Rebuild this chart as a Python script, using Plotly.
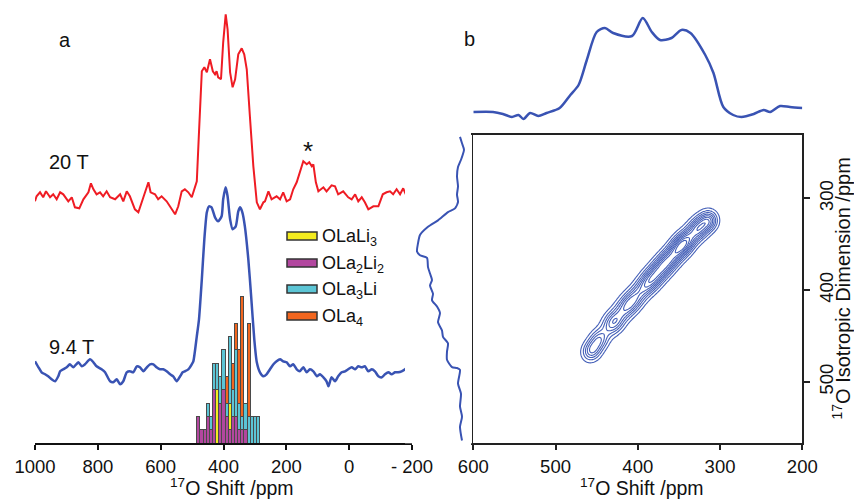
import numpy as np
import plotly.graph_objects as go

# ---------------- data: panel a (1D spectra, ppm vs relative intensity) -------------
red_ppm = [1000, 995, 984, 974, 965, 952, 942, 931, 920, 910, 894, 883, 873, 859, 846, 830, 822, 814,
           804, 793, 783, 772, 761, 745, 729, 719, 708, 698, 682, 671, 655, 639, 632, 618, 608, 597,
           581, 570, 554, 544, 533, 523, 512, 501, 485, 478, 469, 461, 453, 443, 434, 427, 422, 417,
           408, 401, 393, 387, 379, 371, 363, 353, 342, 334, 326, 316, 305, 294, 284, 273, 268, 257,
           247, 231, 220, 210, 199, 188, 178, 167, 157, 146, 135, 127, 119, 114, 106, 98, 82, 72, 56,
           45, 35, 19, 3, -8, -19, -29, -40, -50, -61, -77, -93, -107, -119, -130, -140, -151, -162,
           -172, -183, -194, -199]
red_int = [-5, 0, 4, -1, 5, -1, 2, -3, 4, 2, -5, -1, -11, -12, -3, 4, 13, 7,
           2, 4, 0, 5, -1, -3, 2, -5, 5, 0, -13, -16, -1, 14, 4, 2, -3, 0,
           -5, -10, -18, -10, 5, 7, 4, -1, 15, 64, 125, 129, 124, 137, 125, 122, 125, 119,
           117, 154, 182, 167, 124, 109, 117, 142, 148, 142, 127, 80, 30, -6, -13, -6, -5, 5,
           -3, 0, -3, 4, -5, -3, 7, 14, 24, 35, 32, 34, 30, 32, 14, 5, 9, 5, 11,
           10, 2, 5, -1, -3, 2, -5, -1, -6, -13, -10, -10, 2, 4, 5, 2, 7, 2,
           8, 0, 2, -11]

blue_ppm = [1000, 989, 979, 968, 958, 947, 936, 926, 920, 910, 899, 889, 878, 862, 851, 841, 825, 814,
            804, 788, 777, 761, 751, 740, 729, 719, 708, 698, 687, 676, 666, 655, 644, 634, 623, 613,
            602, 592, 581, 570, 560, 549, 538, 530, 523, 512, 501, 496, 485, 478, 469, 461, 453, 446,
            438, 427, 417, 406, 401, 393, 387, 379, 371, 361, 353, 347, 340, 332, 321, 312, 302, 294,
            284, 273, 263, 252, 241, 231, 220, 210, 199, 188, 178, 167, 157, 146, 135, 125, 114, 103,
            93, 82, 72, 66, 56, 45, 35, 24, 13, 3, -8, -19, -29, -40, -50, -61, -72, -82, -93, -104,
            -114, -125, -135, -146, -156, -167, -178, -188, -199]
blue_int = [10, 4, -1, -3, -5, -8, -10, -5, 0, 2, 4, 7, 4, 9, 5, 7, 12, 9,
            5, 2, -1, -10, -11, -8, -13, -10, -1, 0, -1, 5, 4, 0, 4, 7, 7, 4,
            2, 2, 0, -3, -5, -10, -5, -1, 0, 2, 7, 10, 35, 52, 92, 132, 159, 165,
            164, 154, 150, 155, 172, 184, 175, 152, 142, 145, 160, 164, 159, 145, 112, 75, 32, 9,
            -1, -5, -3, 2, 7, 10, 12, 10, 9, 5, 7, 2, 0, 4, -1, 2, 0, -5,
            -3, -6, -10, -15, -6, -10, -5, -1, 0, 2, 4, 2, 5, 4, 5, 0, 2, 0, -5, -6,
            -3, -1, -3, -1, -1, 0, 2, 5, 10]

# histogram of calculated shifts (counts per 10 ppm bin)
bin_centers = [480, 470, 460, 450, 440, 430, 420, 410, 400, 390,
               380, 370, 360, 350, 340, 330, 320, 310, 300, 290]
count_OLa2Li2 = [2, 1, 1, 2, 1, 4, 0, 3, 4, 2, 1, 2, 2, 1, 1, 1, 0, 0, 0, 0]
count_OLaLi3 = [0, 0, 0, 0, 0, 0, 4, 0, 0, 0, 2, 0, 0, 0, 0, 0, 0, 0, 0, 0]
count_OLa3Li = [0, 0, 0, 1, 1, 2, 2, 2, 3, 1, 5, 2, 5, 2, 1, 2, 2, 2, 2, 2]
count_OLa4 = [0, 0, 0, 0, 0, 0, 0, 0, 0, 2, 0, 2, 2, 4, 9, 0, 7, 0, 0, 0]

legend_names = ["OLaLi<sub>3</sub>", "OLa<sub>2</sub>Li<sub>2</sub>", "OLa<sub>3</sub>Li", "OLa<sub>4</sub>"]
panel_a_ticks = [1000, 800, 600, 400, 200, 0, -200]
panel_a_ticktext = ["1000", "800", "600", "400", "200", "0", "- 200"]
shift_title = "<sup>17</sup>O Shift /ppm"
iso_title = "<sup>17</sup>O Isotropic Dimension /ppm"

# ---------------- data: panel b -------------
top_proj_ppm = [600, 576, 564, 553, 545, 539, 531, 521, 511, 495, 482, 472, 462, 450, 440, 430,
                407, 394, 383, 373, 359, 347, 336, 318, 308, 296, 284, 274, 259, 247, 239, 227,
                215, 200]
top_proj_int = [0, 0, -2, -5, -3, -7, -1, -4, -1, 4, 17, 27, 52, 80, 84, 79,
                76, 94, 80, 72, 74, 82, 79, 57, 39, 5, -3, -5, -2, 2, 0, 6,
                5, 4]

left_proj_iso = [233, 240, 247, 258, 266, 276, 287, 296, 304, 311, 315, 324, 331, 340, 349, 358,
                 362, 365, 375, 382, 389, 395, 404, 411, 418, 425, 435, 444, 451, 458, 467, 476,
                 484, 485, 487, 502, 513, 527, 538, 549, 564]
left_proj_int = [5, 3, 1, 4, 7, 8, 7, 8, 7, 10, 17, 27, 37, 45, 47, 48,
                 45, 38, 37, 35, 33, 35, 32, 33, 28, 25, 27, 23, 22, 17, 18, 18,
                 13, 8, 5, 7, 4, 5, 3, 5, 3]

# ridge components of the 2D (MQMAS) contour
ridge_shift = [456, 447, 430, 410, 385, 365, 345, 325, 313]
ridge_iso = [466, 454, 436, 415, 390, 370, 350, 332, 324]
ridge_amp = [0.55, 0.5, 0.6, 0.75, 0.8, 0.85, 1.0, 0.8, 0.5]
ridge_len = [8, 8, 10, 14, 14, 14, 12, 10, 7]
ridge_wid = [7, 7, 7.5, 7.5, 7.5, 7.5, 7.5, 7.5, 7]
panel_b_xticks = [600, 500, 400, 300, 200]
panel_b_yticks = [300, 400, 500]

# ---------------- styling constants -------------
W, H = 854, 500
FONT = "Liberation Sans, Arial, Helvetica, sans-serif"
RED = "#ef1c24"
BLUE = "#3953b3"
C_MAG = "#b2479f"
C_YEL = "#f4ec1f"
C_CYA = "#5cc5d5"
C_ORA = "#f2661f"
RED_OFFSET = 247
BLUE_OFFSET = 72
TICK_SIZE = 18.5
TITLE_SIZE = 19.5
LABEL_SIZE = 20


def px(x):
    return x / W


def py(y):
    return 1 - y / H


fig = go.Figure()

# spectra
fig.add_trace(go.Scatter(x=red_ppm, y=[v + RED_OFFSET for v in red_int], mode="lines",
                         line=dict(color=RED, width=2), xaxis="x", yaxis="y", showlegend=False))
fig.add_trace(go.Scatter(x=blue_ppm, y=[v + BLUE_OFFSET for v in blue_int], mode="lines",
                         line=dict(color=BLUE, width=2.5, shape="spline", smoothing=0.6),
                         xaxis="x", yaxis="y", showlegend=False))

# histogram (stacked)
for counts, col in [(count_OLa2Li2, C_MAG), (count_OLaLi3, C_YEL), (count_OLa3Li, C_CYA), (count_OLa4, C_ORA)]:
    fig.add_trace(go.Bar(x=bin_centers, y=counts, width=[10] * len(bin_centers),
                         marker=dict(color=col, line=dict(color="#4a4a4a", width=1)),
                         xaxis="x", yaxis="y2", showlegend=False))

# contour
shift_grid = np.arange(200, 601, 1.5)
iso_grid = np.arange(230, 570, 1.5)
S, I = np.meshgrid(shift_grid, iso_grid)
ux, uy = 0.7275, 0.686
Z = np.zeros_like(S)
for s0, i0, a, sl, sw in zip(ridge_shift, ridge_iso, ridge_amp, ridge_len, ridge_wid):
    ds = S - s0
    di = I - i0
    along = ds * ux + di * uy
    across = -ds * uy + di * ux
    Z += a * np.exp(-0.5 * (along / sl) ** 2 - 0.5 * (across / sw) ** 2)
Z = Z / Z.max()
fig.add_trace(go.Contour(x=shift_grid, y=iso_grid, z=Z, xaxis="x2", yaxis="y3",
                         contours=dict(coloring="lines", start=0.1, end=0.95, size=0.1),
                         line=dict(width=1.1), colorscale=[[0, "#4560b8"], [1, "#4560b8"]],
                         showscale=False, hoverinfo="skip"))

# projections
fig.add_trace(go.Scatter(x=top_proj_ppm, y=top_proj_int, mode="lines",
                         line=dict(color=BLUE, width=2.5, shape="spline", smoothing=0.8),
                         xaxis="x2", yaxis="y4", showlegend=False))
fig.add_trace(go.Scatter(x=left_proj_int, y=left_proj_iso, mode="lines",
                         line=dict(color=BLUE, width=2, shape="spline", smoothing=0.6),
                         xaxis="x3", yaxis="y3", showlegend=False))

tick_font = dict(family=FONT, size=TICK_SIZE, color="#111")
title_font = dict(family=FONT, size=TITLE_SIZE, color="#111")

fig.update_layout(
    width=W, height=H, margin=dict(l=0, r=0, t=0, b=0),
    paper_bgcolor="white", plot_bgcolor="white",
    font=dict(family=FONT, size=TICK_SIZE, color="#111"),
    barmode="stack", showlegend=False,
    xaxis=dict(domain=[px(35), px(412)], range=[1000, -200], anchor="y",
               tickvals=panel_a_ticks, ticktext=panel_a_ticktext,
               showline=True, linecolor="#111", linewidth=2,
               ticks="outside", ticklen=5, tickwidth=2, tickcolor="#111",
               showgrid=False, zeroline=False, tickfont=tick_font, automargin=False),
    yaxis=dict(domain=[py(443.3), 1], range=[0, 443.3], visible=False, fixedrange=True),
    yaxis2=dict(domain=[py(443.3), 1], range=[0, 443.3 / 13.33], overlaying="y", visible=False),
    xaxis2=dict(domain=[px(473.3), px(802.3)], range=[600, 200], anchor="y3",
                tickvals=panel_b_xticks, showline=True, mirror=True, linecolor="#222", linewidth=2,
                ticks="outside", ticklen=5, tickwidth=2, tickcolor="#222",
                showgrid=False, zeroline=False, tickfont=tick_font, automargin=False),
    yaxis3=dict(domain=[py(443.3), py(135)], range=[567, 231], anchor="x2", side="right",
                tickvals=panel_b_yticks, tickangle=-90,
                showline=True, mirror=True, linecolor="#222", linewidth=2,
                ticks="outside", ticklen=6, tickwidth=2, tickcolor="#222",
                showgrid=False, zeroline=False, tickfont=tick_font, automargin=False),
    yaxis4=dict(domain=[py(130), 1], range=[-18, 112], anchor="x2", visible=False),
    xaxis3=dict(domain=[px(405), px(472)], range=[60, -7], anchor="y3", visible=False),
)

# axis titles as annotations (fine positioning)
for cx in (232, 642):
    fig.add_annotation(text=shift_title, x=px(cx), y=py(500.5), xref="paper", yref="paper",
                       showarrow=False, xanchor="center", yanchor="bottom", borderpad=0, font=title_font)
fig.add_annotation(text=iso_title, x=px(854), y=py(289), xref="paper", yref="paper", showarrow=False,
                   xanchor="right", yanchor="middle", textangle=-90, borderpad=0,
                   font=dict(family=FONT, size=20, color="#111"))

# panel labels and spectrum labels
notes = [("a", 65, 40, "center"), ("b", 469, 39, "center"), ("20 T", 47, 162, "left"),
         ("9.4 T", 47, 347, "left")]
for txt, x, y, xa in notes:
    fig.add_annotation(text=txt, x=px(x), y=py(y), xref="paper", yref="paper", showarrow=False,
                       xanchor=xa, yanchor="middle", font=dict(family=FONT, size=LABEL_SIZE, color="#111"))
fig.add_annotation(text="*", x=px(307.5), y=py(151), xref="paper", yref="paper", showarrow=False,
                   xanchor="center", yanchor="middle", font=dict(family=FONT, size=26, color="#111"))

# custom legend (wide rectangular swatches)
legend_cols = [C_YEL, C_MAG, C_CYA, C_ORA]
legend_rows = [236, 263, 289, 316]
for name, col, yy in zip(legend_names, legend_cols, legend_rows):
    fig.add_shape(type="rect", xref="paper", yref="paper", x0=px(287), x1=px(317),
                  y0=py(yy + 4), y1=py(yy - 4), fillcolor=col, line=dict(color="#333", width=1.5))
    fig.add_annotation(text=name, x=px(320), y=py(yy + 1), xref="paper", yref="paper", showarrow=False,
                       xanchor="left", yanchor="middle", font=dict(family=FONT, size=18, color="#111"))

fig.write_html("out.html")
